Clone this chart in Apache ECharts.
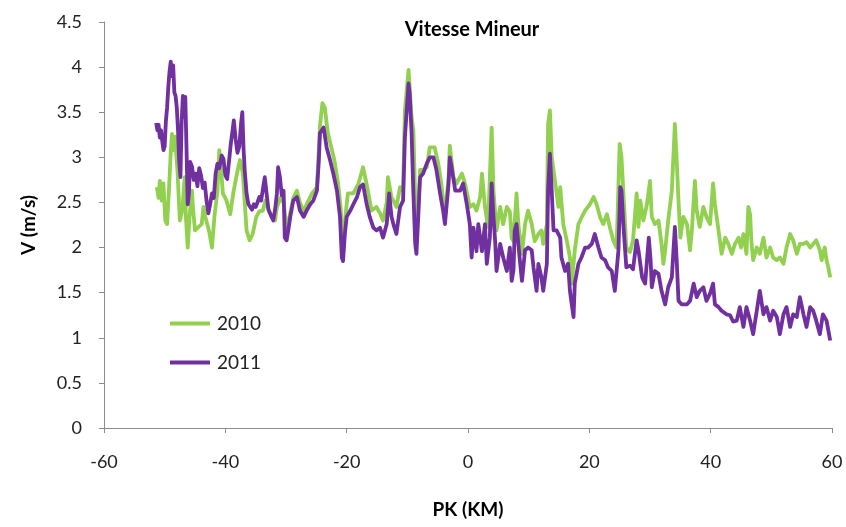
<!DOCTYPE html>
<html>
<head>
<meta charset="utf-8">
<script src="https://cdn.jsdelivr.net/npm/echarts@6/dist/echarts.min.js"></script>
<style>
  html, body { margin: 0; padding: 0; background: #fff; }
  #chart { width: 846px; height: 527px; }
</style>
</head>
<body>
<div id="chart"></div>
<script>
// PK (km) and speed (m/s)
const pk2010 = [
  -51.3, -51.0, -50.8, -50.5, -50.2, -49.9, -49.6, -49.3, -49.0, -48.8, -48.6, -48.3, -47.9, -47.5, -47.1,
  -46.7, -46.5, -46.2, -45.9, -45.5, -45.3, -45.0, -44.4, -43.9, -43.6, -43.3, -42.7, -42.2, -41.8, -41.3,
  -41.0, -40.7, -40.4, -39.8, -39.2, -38.7, -38.2, -37.6, -37.1, -36.8, -36.5, -36.0, -35.5, -34.9, -34.4,
  -33.8, -33.4, -33.0, -32.4, -31.8, -31.5, -30.9, -30.4, -29.9, -29.3, -28.8, -28.2, -27.7, -27.1, -26.6,
  -25.7, -24.9, -24.4, -24.0, -23.6, -23.1, -22.5, -22.0, -21.4, -21.0, -20.6, -20.2, -19.8, -18.9, -18.1,
  -17.3, -16.7, -15.9, -15.1, -14.5, -14.0, -13.4, -13.2, -12.9, -12.6, -12.3, -11.8, -11.2, -10.7, -10.4,
  -9.8, -9.3, -9.0, -8.7, -8.5, -7.9, -7.4, -6.8, -6.3, -5.5, -4.9, -4.4, -3.8, -3.2, -3.0,
  -2.4, -1.9, -1.0, -0.5, 0.3, 0.9, 1.4, 2.0, 2.3, 2.8, 3.3, 3.9, 4.2, 4.7, 5.3,
  5.8, 6.4, 6.9, 7.2, 7.5, 8.0, 8.3, 8.9, 9.4, 9.9, 10.5, 11.0, 11.6, 12.1, 12.4,
  13.0, 13.2, 13.5, 13.8, 14.4, 14.9, 15.2, 15.7, 16.3, 16.8, 17.1, 17.6, 18.2, 18.7, 19.3,
  20.1, 20.7, 21.2, 21.8, 22.3, 22.9, 23.4, 24.0, 24.5, 25.0, 25.3, 25.6, 26.1, 26.7, 27.2,
  27.8, 28.1, 28.4, 28.9, 29.5, 30.0, 30.3, 30.8, 31.4, 31.9, 32.2, 32.5, 33.0, 33.6, 34.1,
  34.4, 34.7, 35.0, 35.5, 36.1, 36.6, 36.9, 37.4, 37.7, 38.2, 38.8, 39.3, 39.9, 40.4, 40.7,
  41.3, 41.8, 42.4, 42.9, 43.5, 44.0, 44.6, 45.0, 45.4, 45.9, 46.2, 46.5, 46.7, 47.0, 47.6,
  48.1, 48.7, 49.2, 49.8, 50.3, 50.9, 51.4, 52.0, 52.5, 53.1, 53.6, 54.2, 54.7, 55.3, 55.8,
  56.4, 56.9, 57.4, 58.0, 58.3, 58.8, 59.1, 59.4, 59.7
];
const v2010 = [
  2.67, 2.55, 2.74, 2.52, 2.71, 2.30, 2.26, 2.63, 3.05, 3.26, 3.08, 3.23, 2.86, 2.30, 2.41,
  2.78, 2.34, 2.00, 2.34, 2.63, 2.41, 2.19, 2.23, 2.26, 2.45, 2.34, 2.19, 2.00, 2.34, 2.63,
  3.08, 2.86, 2.60, 2.52, 2.37, 2.60, 2.78, 2.97, 2.82, 2.50, 2.19, 2.08, 2.15, 2.34, 2.40,
  2.41, 2.52, 2.45, 2.34, 2.30, 2.45, 2.55, 2.50, 2.20, 2.38, 2.55, 2.63, 2.50, 2.40, 2.48,
  2.60, 2.67, 3.35, 3.60, 3.55, 3.27, 3.10, 2.96, 2.70, 2.45, 1.93, 2.35, 2.60, 2.60, 2.70,
  2.89, 2.70, 2.41, 2.45, 2.38, 2.30, 2.50, 2.78, 2.78, 2.55, 2.52, 2.45, 2.67, 2.63, 3.52,
  3.97, 3.44, 3.30, 2.52, 2.04, 2.86, 2.86, 2.89, 3.11, 3.11, 2.93, 2.71, 2.34, 2.78, 3.13,
  2.78, 2.71, 2.82, 2.71, 2.45, 2.48, 2.41, 2.56, 2.82, 2.45, 2.23, 3.33, 2.63, 2.19, 2.45,
  2.26, 2.45, 2.40, 2.10, 2.07, 2.60, 2.26, 1.93, 2.26, 2.41, 2.26, 2.07, 2.15, 2.19, 2.04,
  2.26, 3.37, 3.52, 3.00, 2.71, 2.45, 2.67, 2.26, 2.07, 1.89, 1.60, 1.97, 2.26, 2.33, 2.41,
  2.48, 2.56, 2.48, 2.33, 2.26, 2.37, 2.22, 2.07, 2.00, 3.15, 3.00, 2.63, 2.00, 1.95, 2.08,
  2.60, 2.23, 2.52, 2.30, 2.48, 2.74, 2.34, 2.26, 2.30, 2.04, 1.82, 1.97, 2.30, 2.63, 3.37,
  2.97, 2.52, 2.11, 2.34, 2.26, 1.97, 2.19, 2.74, 2.41, 2.23, 2.45, 2.34, 2.26, 2.71, 2.48,
  2.19, 1.93, 2.11, 2.04, 1.93, 2.04, 2.11, 2.00, 2.15, 1.93, 2.45, 2.37, 2.08, 1.86, 2.00,
  1.93, 2.11, 1.89, 2.00, 1.89, 1.86, 1.89, 1.82, 2.00, 2.15, 2.08, 1.93, 2.04, 2.04, 2.06,
  2.00, 2.04, 2.08, 1.97, 1.86, 2.00, 1.86, 1.78, 1.67
];

const pk2011 = [
  -51.4, -51.2, -51.0, -50.8, -50.6, -50.4, -50.2, -50.0, -49.8, -49.6, -49.4, -49.2, -49.0, -48.8, -48.6,
  -48.4, -48.2, -48.0, -47.8, -47.6, -47.4, -47.2, -47.0, -46.8, -46.6, -46.4, -46.2, -46.0, -45.8, -45.5,
  -45.2, -44.9, -44.6, -44.3, -44.0, -43.7, -43.4, -43.1, -42.8, -42.5, -42.2, -41.9, -41.6, -41.3, -41.0,
  -40.6, -40.3, -40.0, -39.7, -39.4, -39.1, -38.8, -38.6, -38.3, -38.0, -37.7, -37.4, -37.2, -37.0, -36.8,
  -36.5, -36.2, -35.9, -35.6, -35.3, -35.0, -34.7, -34.4, -34.1, -33.8, -33.5, -33.2, -32.9, -32.6, -32.1,
  -31.8, -31.5, -31.3, -31.0, -30.7, -30.4, -30.2, -29.9, -29.6, -29.3, -28.8, -28.2, -27.7, -27.1, -26.6,
  -26.0, -25.5, -24.9, -24.6, -24.4, -23.8, -23.3, -22.7, -22.2, -21.6, -21.1, -20.8, -20.6, -20.3, -20.0,
  -19.4, -18.9, -18.3, -17.8, -17.3, -16.7, -16.2, -15.6, -15.1, -14.5, -14.0, -13.4, -13.0, -12.6, -12.3,
  -11.8, -11.2, -10.7, -10.4, -9.8, -9.6, -9.3, -9.0, -8.7, -8.5, -8.2, -7.9, -7.4, -6.8, -6.3,
  -5.7, -5.2, -4.6, -4.1, -3.8, -3.2, -3.0, -2.7, -2.1, -1.3, -0.8, -0.2, 0.3, 0.6, 0.9,
  1.4, 1.7, 2.3, 2.8, 3.1, 3.6, 3.9, 4.2, 4.5, 4.7, 5.3, 5.8, 6.4, 6.9, 7.2,
  7.5, 7.7, 8.0, 8.6, 8.9, 9.4, 9.9, 10.5, 10.8, 11.3, 11.6, 12.1, 12.4, 13.0, 13.2,
  13.5, 13.8, 14.1, 14.6, 15.2, 15.4, 16.0, 16.5, 16.8, 17.1, 17.4, 17.6, 18.2, 18.7, 19.3,
  19.8, 20.4, 20.9, 21.5, 22.0, 22.6, 23.1, 23.7, 24.2, 24.8, 25.1, 25.3, 25.6, 26.1, 26.7,
  27.2, 27.8, 28.1, 28.7, 29.2, 29.8, 30.1, 30.3, 30.8, 31.4, 31.9, 32.5, 33.0, 33.6, 34.1,
  34.4, 34.7, 35.2, 36.1, 36.6, 37.2, 37.7, 38.2, 38.8, 39.3, 39.9, 40.4, 40.7, 41.3, 41.8,
  42.6, 43.2, 43.7, 44.3, 44.8, 45.4, 45.9, 46.5, 47.0, 47.6, 48.1, 48.7, 49.2, 49.8, 50.3,
  50.9, 51.4, 52.0, 52.5, 53.1, 53.6, 54.2, 54.7, 55.3, 55.8, 56.4, 56.9, 57.4, 58.0, 58.5,
  59.1, 59.7
];
const v2011 = [
  3.38, 3.30, 3.36, 3.22, 3.30, 3.18, 3.08, 3.12, 3.40, 3.55, 3.78, 3.95, 4.06, 3.90, 4.02,
  3.72, 3.68, 3.55, 3.30, 2.95, 2.78, 3.40, 3.68, 3.45, 3.67, 3.10, 2.48, 2.60, 2.95, 2.90,
  2.75, 2.82, 2.68, 2.88, 2.80, 2.66, 2.72, 2.52, 2.38, 2.48, 2.60, 2.55, 2.82, 2.93, 2.88,
  3.02, 2.98, 2.80, 2.76, 2.95, 3.15, 3.30, 3.41, 3.20, 3.05, 3.12, 3.38, 3.50, 3.10, 2.85,
  2.60, 2.48, 2.50, 2.42, 2.48, 2.45, 2.50, 2.56, 2.52, 2.65, 2.78, 2.60, 2.42, 2.41, 2.30,
  2.42, 2.60, 2.89, 2.78, 2.58, 2.63, 2.11, 2.08, 2.20, 2.34, 2.52, 2.56, 2.41, 2.34, 2.41,
  2.48, 2.52, 2.63, 2.95, 3.27, 3.33, 3.11, 2.96, 2.82, 2.63, 2.34, 1.89, 1.85, 2.15, 2.34,
  2.41, 2.48, 2.56, 2.67, 2.70, 2.48, 2.34, 2.22, 2.19, 2.22, 2.11, 2.26, 2.60, 2.34, 2.26,
  2.15, 2.45, 2.52, 3.22, 3.82, 3.70, 3.27, 2.60, 2.04, 1.93, 2.34, 2.78, 2.82, 2.93, 3.00,
  3.00, 2.86, 2.60, 2.41, 2.26, 2.71, 3.00, 2.89, 2.63, 2.63, 2.71, 2.48, 2.26, 1.89, 2.22,
  1.96, 2.26, 1.96, 2.26, 1.82, 2.11, 2.71, 2.34, 2.04, 1.74, 2.04, 1.89, 1.74, 2.00, 1.63,
  1.75, 2.19, 2.26, 1.82, 1.63, 1.97, 2.00, 1.97, 1.78, 1.52, 1.82, 1.67, 1.52, 1.82, 2.63,
  3.04, 2.63, 2.19, 2.19, 2.11, 1.89, 1.74, 1.82, 1.52, 1.37, 1.23, 1.60, 1.82, 1.89, 2.00,
  2.00, 2.04, 2.15, 2.00, 1.89, 1.86, 1.78, 1.74, 1.52, 1.97, 2.67, 2.63, 2.26, 1.78, 1.80,
  1.76, 2.08, 1.97, 1.67, 1.60, 2.11, 1.86, 1.56, 1.74, 1.71, 1.52, 1.37, 1.56, 1.67, 2.23,
  1.86, 1.41, 1.37, 1.37, 1.41, 1.60, 1.45, 1.52, 1.56, 1.41, 1.49, 1.60, 1.37, 1.34, 1.30,
  1.26, 1.25, 1.18, 1.19, 1.34, 1.12, 1.34, 1.19, 1.04, 1.30, 1.52, 1.26, 1.34, 1.19, 1.30,
  1.23, 1.04, 1.26, 1.34, 1.12, 1.26, 1.23, 1.45, 1.26, 1.12, 1.34, 1.30, 1.19, 1.04, 1.26,
  1.19, 0.97
];

const green = '#92d050';
const purple = '#7030a0';
const font = 'Lato, "Open Sans", sans-serif';

const zip = (xs, ys) => xs.map((x, i) => [x, ys[i]]);

const chart = echarts.init(document.getElementById('chart'), null, { renderer: 'canvas' });

chart.setOption({
  animation: false,
  backgroundColor: '#ffffff',
  textStyle: { fontFamily: font },
  title: {
    text: 'Vitesse Mineur',
    left: 467,
    top: 15,
    textAlign: 'center',
    textStyle: { fontFamily: font, fontSize: 20, fontWeight: 'bold', color: '#000' }
  },
  legend: {
    orient: 'vertical',
    left: 165,
    top: 309,
    itemWidth: 40,
    itemHeight: 4,
    itemGap: 20,
    icon: 'rect',
    textStyle: { fontFamily: font, fontSize: 19, color: '#222', padding: [0, 0, 0, 2] },
    data: ['2010', '2011']
  },
  grid: { left: 104, right: 14, top: 22, bottom: 99, containLabel: false },
  xAxis: {
    type: 'value',
    min: -60,
    max: 60,
    interval: 20,
    name: 'PK (KM)',
    nameLocation: 'middle',
    nameGap: 72,
    nameTextStyle: { fontFamily: font, fontSize: 19, fontWeight: 'bold', color: '#000' },
    axisLine: { show: true, onZero: false, lineStyle: { color: '#8c8c8c', width: 1 } },
    axisTick: { show: true, length: 5, lineStyle: { color: '#8c8c8c' } },
    axisLabel: { margin: 25, fontFamily: font, fontSize: 18, color: '#222' },
    splitLine: { show: false }
  },
  yAxis: {
    type: 'value',
    min: 0,
    max: 4.5,
    interval: 0.5,
    name: 'V (m/s)',
    nameLocation: 'middle',
    nameGap: 66,
    nameTextStyle: { fontFamily: font, fontSize: 19, fontWeight: 'bold', color: '#000' },
    axisLine: { show: true, onZero: false, lineStyle: { color: '#8c8c8c', width: 1 } },
    axisTick: { show: true, length: 5, lineStyle: { color: '#8c8c8c' } },
    axisLabel: { margin: 22, fontFamily: font, fontSize: 18, color: '#222' },
    splitLine: { show: false }
  },
  series: [
    {
      name: '2010',
      type: 'line',
      data: zip(pk2010, v2010),
      showSymbol: false,
      symbol: 'none',
      color: green,
      lineStyle: { color: green, width: 3.8, join: 'round' },
      z: 2
    },
    {
      name: '2011',
      type: 'line',
      data: zip(pk2011, v2011),
      showSymbol: false,
      symbol: 'none',
      color: purple,
      lineStyle: { color: purple, width: 3.8, join: 'round' },
      z: 3
    }
  ]
});
</script>
</body>
</html>
